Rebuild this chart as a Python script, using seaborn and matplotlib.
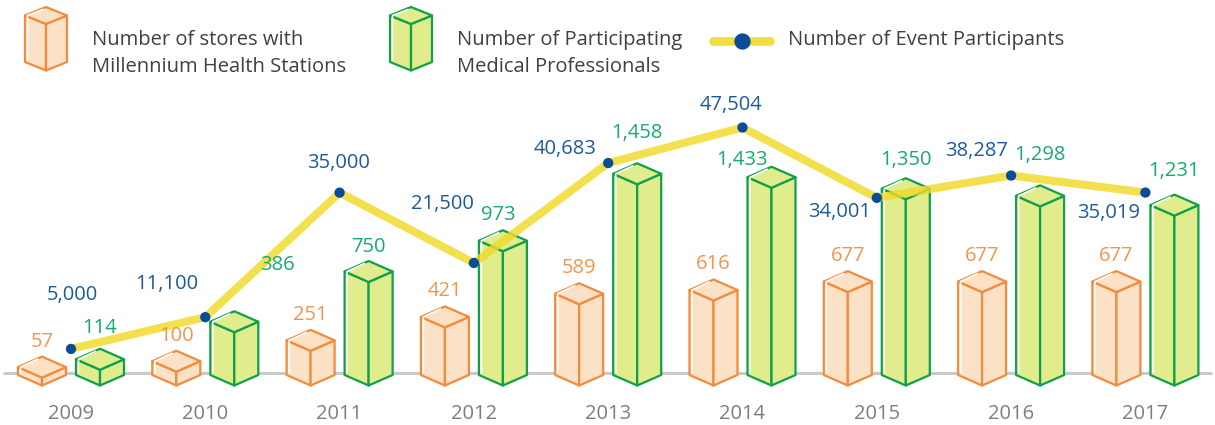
import matplotlib
matplotlib.use("Agg")
import matplotlib.pyplot as plt
from matplotlib.patches import Polygon
import seaborn as sns

sns.set_theme(style="white", context="notebook")
plt.rcParams["font.family"] = ["Open Sans", "DejaVu Sans"]

# data
years = ["2009", "2010", "2011", "2012", "2013", "2014", "2015", "2016", "2017"]
stores = [57, 100, 251, 421, 589, 616, 677, 677, 677]
professionals = [114, 386, 750, 973, 1458, 1433, 1350, 1298, 1231]
participants = [5000, 11100, 35000, 21500, 40683, 47504, 34001, 38287, 35019]

# label placement (pixels)
event_offsets = [(1, 54), (-39, 33), (-1, 30), (-31, 59), (-43, 14),
                 (-12, 23), (-37, -14), (-35, 25), (-37, -20)]
prof_offsets = [(0, 21), (43, 46), (0, 14), (-5, 15), (0, 30),
                (-30, 7), (0, 18), (0, 30), (0, 24)]
store_offset = 15

ORANGE_EDGE = "#f28b3c"
ORANGE_FACE = "#fbe1c6"
ORANGE_TEXT = "#f2954c"
GREEN_EDGE = "#0ea04b"
GREEN_FACE = "#e1ec8c"
GREEN_TEXT = "#17ab6c"
BLUE = "#1d5a9c"
DOT = "#0b4c9a"
YELLOW = "#f0da28"

W, H, DPI = 12.15, 4.25, 100
fig = plt.figure(figsize=(W, H), dpi=DPI)

base_px = 50
ax = fig.add_axes([0, base_px / 425, 1, (425 - base_px) / 425])
px_per_x = 134.3
x_left = -71 / px_per_x
ax.set_xlim(x_left, x_left + 1215 / px_per_x)
bar_scale = 0.138  # px per store/professional
line_scale = 0.00521  # px per participant
ax_h_px = 425 - base_px
ax.set_ylim(0, ax_h_px / bar_scale)

ax2 = ax.twinx()
ax2.set_ylim(0, ax_h_px / line_scale)

half_w = 24 / px_per_x
shift = 29 / px_per_x
d = 10.5 / bar_scale
hl_dx = 2.5 / px_per_x
hl_dy = 2.5 / bar_scale

ax.axhline(0, xmin=0.005, xmax=0.996, color="#c9c9c9", lw=4.5, zorder=1)


def draw_box(x, h, face, edge):
    faces = [
        [(x - half_w, 0), (x, -d), (x, h - d), (x - half_w, h)],
        [(x, -d), (x + half_w, 0), (x + half_w, h), (x, h - d)],
        [(x - half_w, h), (x, h - d), (x + half_w, h), (x, h + d)],
    ]
    for pts in faces:
        ax.add_patch(Polygon(pts, closed=True, facecolor=face, edgecolor=edge,
                             lw=1.6, joinstyle="round", zorder=3, clip_on=False))
    # white highlight along the left edges
    ax.plot([x - half_w + hl_dx, x - half_w + hl_dx, x - 1.5 * hl_dx],
            [hl_dy * 0.8, h, h + d - hl_dy * 0.9],
            color="white", lw=1.2, zorder=4, solid_capstyle="butt", clip_on=False)


idx = list(range(len(years)))
sns.lineplot(x=idx, y=participants, ax=ax2, color=YELLOW, lw=5.8, alpha=0.82,
             solid_joinstyle="round", zorder=5)
sns.scatterplot(x=idx, y=participants, ax=ax2, color=DOT, s=55, edgecolor="none",
                zorder=6)

for i in range(len(years)):
    draw_box(i - shift, stores[i], ORANGE_FACE, ORANGE_EDGE)
    draw_box(i + shift, professionals[i], GREEN_FACE, GREEN_EDGE)
    # bar labels go on the top axes so the line does not hide them
    ax2.annotate(f"{stores[i]:,}", (i - shift, stores[i] + d), xycoords=ax.transData,
                 xytext=(0, store_offset), textcoords="offset pixels",
                 ha="center", va="center", fontsize=14.5, color=ORANGE_TEXT, zorder=7)
    ox, oy = prof_offsets[i]
    ax2.annotate(f"{professionals[i]:,}", (i + shift, professionals[i] + d),
                 xycoords=ax.transData, xytext=(ox, oy), textcoords="offset pixels",
                 ha="center", va="center", fontsize=14.5, color=GREEN_TEXT, zorder=7)

for i, v in enumerate(participants):
    ox, oy = event_offsets[i]
    ax2.annotate(f"{v:,}", (i, v), xytext=(ox, oy), textcoords="offset pixels",
                 ha="center", va="center", fontsize=14.5, color=BLUE, zorder=7)

ax.set_xticks(idx, labels=years)
ax.tick_params(axis="x", length=0, pad=21, labelsize=14.5, labelcolor="#7d7d7d")
ax.set_yticks([])
ax2.set_yticks([])
for a in (ax, ax2):
    for s in a.spines.values():
        s.set_visible(False)
    a.grid(False)
ax.patch.set_alpha(0)

# legend drawn in pixel space at the top
lax = fig.add_axes([0, 0, 1, 1], zorder=10)
lax.set_xlim(0, 1215)
lax.set_ylim(425, 0)
lax.axis("off")


def legend_box(x0, face, edge):
    hw, dd = 21, 8.5
    xc = x0 + hw
    top, bot = 15.5, 62
    faces = [
        [(x0, top), (xc, top + dd), (xc, bot + dd), (x0, bot)],
        [(xc, top + dd), (x0 + 2 * hw, top), (x0 + 2 * hw, bot), (xc, bot + dd)],
        [(x0, top), (xc, top - dd), (x0 + 2 * hw, top), (xc, top + dd)],
    ]
    for pts in faces:
        lax.add_patch(Polygon(pts, closed=True, facecolor=face, edgecolor=edge,
                              lw=1.6, joinstyle="round"))
    lax.plot([x0 + 2.5, x0 + 2.5, xc - 3], [bot - 2, top, top - dd + 2.5],
             color="white", lw=1.2)


legend_box(25, ORANGE_FACE, ORANGE_EDGE)
legend_box(390, GREEN_FACE, GREEN_EDGE)
lax.plot([713, 770], [41, 41], color=YELLOW, lw=6.2, solid_capstyle="round", alpha=0.9)
lax.scatter([742], [41], s=115, color=DOT, zorder=3)

text_kw = dict(fontsize=14.5, color="#404040", va="baseline", ha="left")
lax.text(92, 45, "Number of stores with", **text_kw)
lax.text(92, 72, "Millennium Health Stations", **text_kw)
lax.text(457, 45, "Number of Participating", **text_kw)
lax.text(457, 72, "Medical Professionals", **text_kw)
lax.text(788, 45, "Number of Event Participants", **text_kw)

fig.savefig("out.png", dpi=DPI)
